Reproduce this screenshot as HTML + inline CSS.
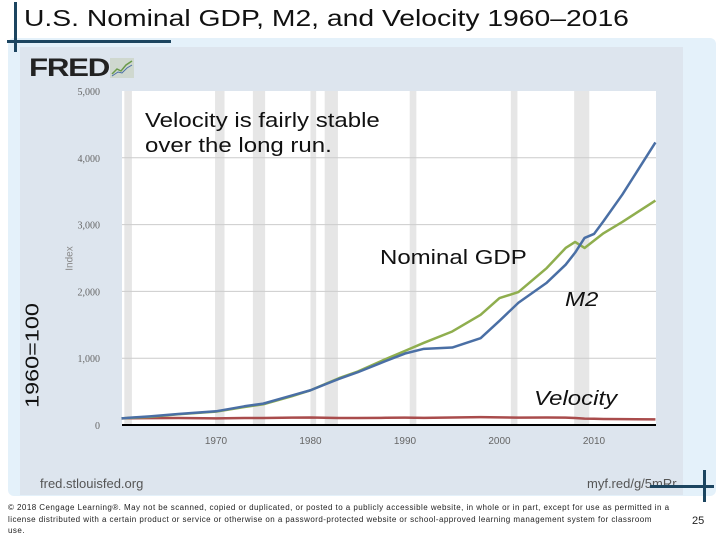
<!DOCTYPE html>
<html><head><meta charset="utf-8"><style>
body{margin:0;width:720px;height:540px;background:#fff;position:relative;overflow:hidden;font-family:"Liberation Sans",sans-serif}
.abs{position:absolute}
.sx{transform:scaleX(1.2);transform-origin:left top;white-space:nowrap}
</style></head><body>
<div class="abs" style="left:8px;top:38px;width:708px;height:458px;background:#e4f1fa;border-radius:6px"></div>
<div class="abs" style="left:20px;top:47px;width:663px;height:448px;background:#dde5ee"></div>
<div class="abs sx" style="left:24px;top:5px;font-size:23px;color:#111;transform:scaleX(1.23)">U.S. Nominal GDP, M2, and Velocity 1960–2016</div>
<div class="abs" style="left:14px;top:2px;width:3px;height:50px;background:#1c4560"></div>
<div class="abs" style="left:7px;top:40px;width:164px;height:3px;background:#1c4560"></div>
<div class="abs sx" style="left:29px;top:54px;font-size:25px;font-weight:bold;color:#222;letter-spacing:-1px;transform:scaleX(1.25)">FRED</div>
<svg class="abs" style="left:110px;top:58px" width="24" height="20"><rect width="24" height="20" fill="#cfd8cf"/><polyline points="2,16 7,11 11,13 16,7 22,3" fill="none" stroke="#6a9a4a" stroke-width="1.5"/><polyline points="2,18 8,14 12,15 17,10 22,7" fill="none" stroke="#4a6fa5" stroke-width="1"/></svg>
<svg class="abs" style="left:0;top:0" width="720" height="540">
<g id="g"></g>
</svg>
<div class="abs" style="left:40px;top:476px;font-size:13px;color:#555">fred.stlouisfed.org</div>
<div class="abs" style="left:587px;top:476px;font-size:13px;color:#555">myf.red/g/5mRr</div>
<div class="abs" style="left:703px;top:470px;width:3px;height:32px;background:#1c4560"></div>
<div class="abs" style="left:650px;top:485px;width:64px;height:3px;background:#1c4560"></div>
<div class="abs" style="left:8px;top:502px;width:662px;font-size:8px;line-height:11.5px;color:#222;letter-spacing:0.45px">© 2018 Cengage Learning®. May not be scanned, copied or duplicated, or posted to a publicly accessible website, in whole or in part, except for use as permitted in a license distributed with a certain product or service or otherwise on a password-protected website or school-approved learning management system for classroom use.</div>
<div class="abs" style="left:692px;top:515px;font-size:11px;color:#222">25</div>
<div class="abs sx" style="left:145px;top:109px;font-size:20px;line-height:25px;color:#111">Velocity is fairly stable<br>over the long run.</div>
<div class="abs sx" style="left:380px;top:247px;font-size:20px;color:#111">Nominal GDP</div>
<div class="abs sx" style="left:565px;top:289px;font-size:20px;font-style:italic;color:#111">M2</div>
<div class="abs sx" style="left:534px;top:388px;font-size:20px;font-style:italic;color:#111">Velocity</div>
<div class="abs" style="left:-22px;top:345px;width:110px;transform:rotate(-90deg) scaleX(1.3);transform-origin:center;font-size:18px;color:#111;text-align:center">1960=100</div>
<div class="abs" style="left:58px;top:253px;transform:rotate(-90deg);font-size:10px;color:#888">Index</div>
<script>
const years=[1960,1963,1966,1970,1973,1975,1978,1980,1983,1985,1988,1990,1992,1995,1998,2000,2002,2005,2007,2008,2009,2010,2011,2013,2016.5];
const gdp=[100,122,160,200,270,310,430,520,700,800,990,1110,1230,1400,1650,1900,1990,2350,2650,2740,2650,2760,2870,3040,3360];
const m2=[100,130,165,205,280,320,440,520,690,790,960,1070,1140,1160,1300,1560,1830,2130,2400,2580,2800,2860,3050,3450,4230];
const velocity=[100,102,104,100,105,105,110,112,104,105,108,110,106,112,117,115,110,112,110,105,95,93,90,88,85];
const yTicks=[0,1000,2000,3000,4000,5000];
const xTicks=[1970,1980,1990,2000,2010];
const recessions=[[1960.3,1961.1],[1969.9,1970.9],[1973.9,1975.2],[1980,1980.6],[1981.5,1982.9],[1990.5,1991.2],[2001.2,2001.9],[2007.9,2009.5]];
const X=y=>121.5+(y-1960)*9.45, Y=v=>425-v*0.0668;
const ns="http://www.w3.org/2000/svg", g=document.getElementById('g');
function mk(t,a){const e=document.createElementNS(ns,t);for(const k in a)e.setAttribute(k,a[k]);g.appendChild(e);return e;}
let e=mk('rect',{x:122,y:91,width:534,height:334,fill:'#fff'});

recessions.forEach(r=>{const el=mk('rect',{x:X(r[0]),y:91,width:X(r[1])-X(r[0]),height:334,fill:'#e6e6e6'});
});
yTicks.forEach(v=>{if(v>0&&v<5000){const l=mk('line',{x1:122,x2:656,y1:Y(v),y2:Y(v),stroke:'#ccc'});
}
const t=mk('text',{x:100,y:Y(v)+4,'text-anchor':'end','font-size':10,fill:'#666','font-family':'Liberation Serif'});t.textContent=v.toLocaleString('en-US');
});
xTicks.forEach(v=>{const t=mk('text',{x:X(v),y:444,'text-anchor':'middle','font-size':10,fill:'#666'});t.textContent=v;
});
const ax=mk('line',{x1:122,x2:656,y1:425,y2:425,stroke:'#000','stroke-width':2});

[[velocity,'#a94c4c','velocity-line'],[gdp,'#8fae4e','gdp-line'],[m2,'#4a6fa5','m2-line']].forEach(s=>{
const p=mk('polyline',{points:years.map((y,i)=>X(y)+','+Y(s[0][i])).join(' '),fill:'none',stroke:s[1],'stroke-width':2.5,'stroke-linejoin':'round'});
});
</script>
</body></html>
